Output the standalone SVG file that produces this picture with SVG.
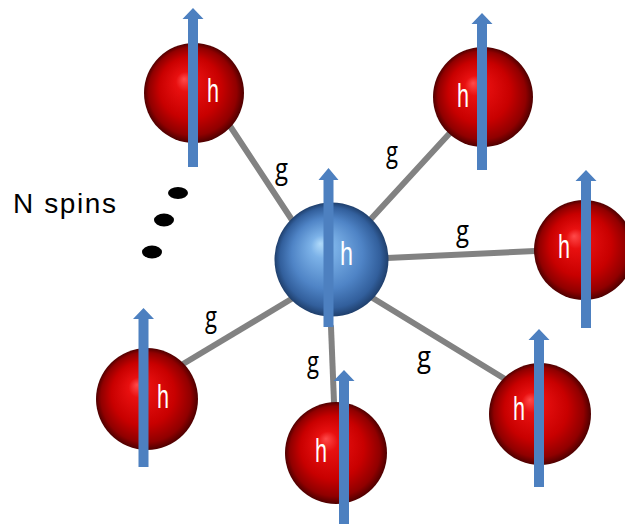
<svg xmlns="http://www.w3.org/2000/svg" width="625" height="524" viewBox="0 0 625 524">
<defs>
<radialGradient id="red" cx="0.5" cy="0.5" r="0.5" fx="0.4" fy="0.36">
<stop offset="0" stop-color="#ff4a4a"/>
<stop offset="0.2" stop-color="#e81010"/>
<stop offset="0.62" stop-color="#c80000"/>
<stop offset="0.88" stop-color="#900000"/>
<stop offset="1" stop-color="#4e0000"/>
</radialGradient>
<radialGradient id="blue" cx="0.5" cy="0.5" r="0.5" fx="0.4" fy="0.36">
<stop offset="0" stop-color="#b0dafa"/>
<stop offset="0.2" stop-color="#7cb2e8"/>
<stop offset="0.62" stop-color="#4f84c6"/>
<stop offset="0.88" stop-color="#325f9c"/>
<stop offset="1" stop-color="#1f3f6c"/>
</radialGradient>
</defs>
<style>
.red{fill:url(#red)}
.blue{fill:url(#blue)}
.arrow{fill:#4d80c0}
.h{font-family:"Liberation Sans",Arial,sans-serif;font-size:33px;fill:#ffffff}
.g{font-family:"Open Sans","Liberation Sans",Arial,sans-serif;font-size:29px;fill:#000000}
.conn{stroke:#828282;stroke-width:6;stroke-linecap:round;fill:none}
.lbl{font-family:"Liberation Sans",Arial,sans-serif;font-size:28px;fill:#000000}
</style>
<rect width="625" height="524" fill="#ffffff"/>
<g id="connectors">
<line class="conn" x1="292" y1="220" x2="230" y2="126"/>
<line class="conn" x1="370" y1="220" x2="449" y2="134"/>
<line class="conn" x1="387" y1="258" x2="535" y2="251"/>
<line class="conn" x1="371" y1="297" x2="505" y2="379"/>
<line class="conn" x1="293" y1="298" x2="183" y2="364"/>
<line class="conn" x1="331" y1="327" x2="334" y2="402"/>
<text class="g" x="275" y="179" textLength="13" lengthAdjust="spacingAndGlyphs">g</text>
<text class="g" x="386" y="162" textLength="12" lengthAdjust="spacingAndGlyphs">g</text>
<text class="g" x="456" y="241" textLength="13" lengthAdjust="spacingAndGlyphs">g</text>
<text class="g" x="205" y="327" textLength="12" lengthAdjust="spacingAndGlyphs">g</text>
<text class="g" x="307" y="372" textLength="12" lengthAdjust="spacingAndGlyphs">g</text>
<text class="g" x="417" y="367" textLength="14" lengthAdjust="spacingAndGlyphs">g</text>
</g>
<g id="spin-top-left">
<circle class="red" cx="194" cy="93" r="50"/>
<polygon class="arrow" points="188,167 188,19 182.5,19 193,8 203.5,19 198,19 198,167"/>
<text class="h" x="207" y="102" textLength="12" lengthAdjust="spacingAndGlyphs">h</text>
</g>
<g id="spin-top-right">
<circle class="red" cx="483" cy="97" r="50"/>
<polygon class="arrow" points="477,170 477,24 471.5,24 482,13 492.5,24 487,24 487,170"/>
<text class="h" x="457" y="107" textLength="12" lengthAdjust="spacingAndGlyphs">h</text>
</g>
<g id="spin-right">
<circle class="red" cx="584" cy="250" r="50"/>
<polygon class="arrow" points="581,328 581,181 575.5,181 586,170 596.5,181 591,181 591,328"/>
<text class="h" x="558" y="258" textLength="12" lengthAdjust="spacingAndGlyphs">h</text>
</g>
<g id="spin-bottom-right">
<circle class="red" cx="540" cy="414" r="51"/>
<polygon class="arrow" points="534,487 534,340 528.5,340 539,329 549.5,340 544,340 544,487"/>
<text class="h" x="513" y="420" textLength="12" lengthAdjust="spacingAndGlyphs">h</text>
</g>
<g id="spin-bottom-center">
<circle class="red" cx="336" cy="453" r="51"/>
<polygon class="arrow" points="339,524 339,381 333.5,381 344,370 354.5,381 349,381 349,524"/>
<text class="h" x="315" y="462" textLength="12" lengthAdjust="spacingAndGlyphs">h</text>
</g>
<g id="spin-bottom-left">
<circle class="red" cx="147" cy="399" r="51"/>
<polygon class="arrow" points="138.5,467 138.5,319 133,319 143.5,308 154,319 148.5,319 148.5,467"/>
<text class="h" x="157" y="408" textLength="12" lengthAdjust="spacingAndGlyphs">h</text>
</g>
<g id="spin-center">
<circle class="blue" cx="331.5" cy="259.5" r="57"/>
<polygon class="arrow" points="323.5,327 323.5,180 318.5,180 328.5,168 338.5,180 333.5,180 333.5,327"/>
<text class="h" x="340" y="265" textLength="13" lengthAdjust="spacingAndGlyphs">h</text>
</g>
<g id="n-spins">
<text class="lbl" x="13" y="213" textLength="103" lengthAdjust="spacing">N spins</text>
<ellipse cx="178" cy="193" rx="10" ry="6" fill="#000000"/>
<ellipse cx="164" cy="220" rx="10" ry="6.5" fill="#000000"/>
<ellipse cx="152" cy="252" rx="10" ry="6.5" fill="#000000"/>
</g>
</svg>
